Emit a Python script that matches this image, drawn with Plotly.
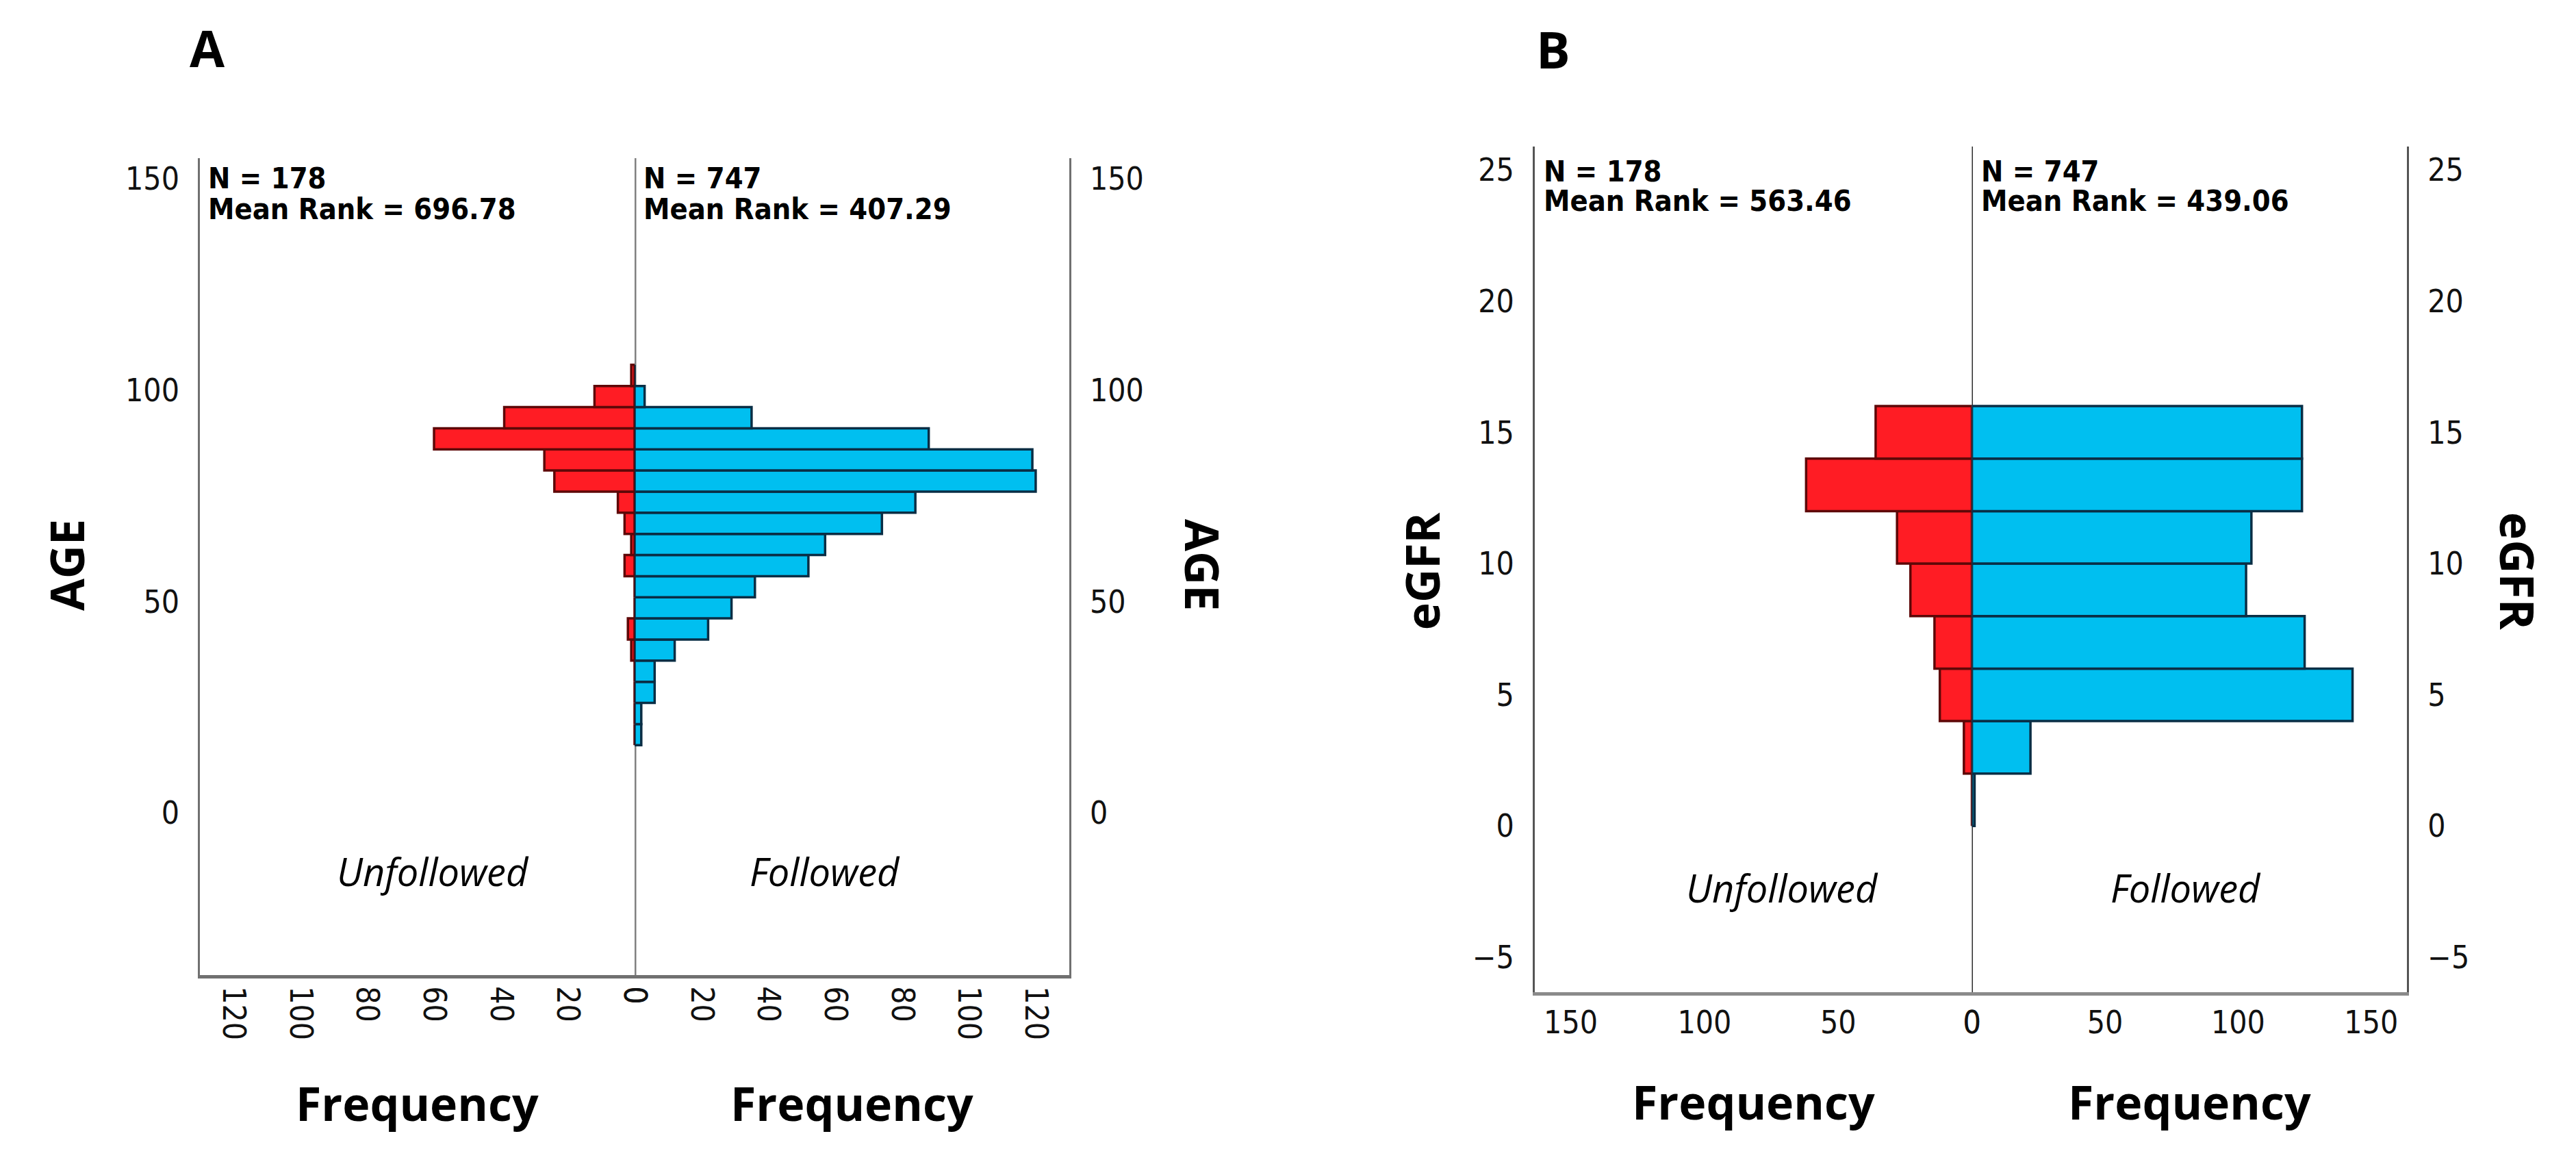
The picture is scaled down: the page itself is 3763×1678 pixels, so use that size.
import plotly.graph_objects as go

# ---------------- data ----------------
age_bin_start = [16, 21, 26, 31, 36, 41, 46, 51, 56, 61, 66, 71, 76, 81, 86, 91, 96, 101]
age_bin_width = 5
age_unfollowed = [0, 0, 0, 0, 1, 2, 0, 0, 3, 1, 3, 5, 24, 27, 60, 39, 12, 1]
age_followed = [2, 2, 6, 6, 12, 22, 29, 36, 52, 57, 74, 84, 120, 119, 88, 35, 3, 0]

egfr_bin_start = [0, 2, 4, 6, 8, 10, 12, 14]
egfr_bin_width = 2
egfr_unfollowed = [0, 3, 12, 14, 23, 28, 62, 36]
egfr_followed = [1, 22, 143, 125, 103, 105, 124, 124]

age_y_ticks = [0, 50, 100, 150]
age_x_ticks = [0, 20, 40, 60, 80, 100, 120]
egfr_y_ticks = [-5, 0, 5, 10, 15, 20, 25]
egfr_x_ticks = [0, 50, 100, 150]

stats_age = [("N = 178", "Mean Rank = 696.78"), ("N = 747", "Mean Rank = 407.29")]
stats_egfr = [("N = 178", "Mean Rank = 563.46"), ("N = 747", "Mean Rank = 439.06")]
group_labels = ["Unfollowed", "Followed"]

# ---------------- style ----------------
W, H = 3763, 1678
RED, RED_EDGE = "#FF1C24", "#5E0808"
BLUE, BLUE_EDGE = "#00BFF0", "#0A2E45"
TICK_FONT = dict(family="DejaVu Sans Condensed, Liberation Sans, sans-serif", size=46, color="#111111")
STAT_FONT = dict(family="DejaVu Sans Condensed, Liberation Sans, sans-serif", size=43, color="#000000", weight="bold")
TITLE_FONT = dict(family="Open Sans, Liberation Sans, sans-serif", size=68, color="#000000", weight="bold")
GROUP_FONT = dict(family="Open Sans, Liberation Sans, sans-serif", size=56, color="#000000", style="italic")
PANEL_FONT = dict(family="Open Sans, Liberation Sans, sans-serif", size=74, color="#000000", weight="bold")


def fx(x):
    return x / W


def fy(y):
    return 1 - y / H


A_L, A_C, A_R, A_T, A_B = 262, 906, 1550, 223, 1416
B_L, B_C, B_R, B_T, B_B = 2240, 2888, 3533, 206, 1441

age_centers = [s + age_bin_width / 2 for s in age_bin_start]
egfr_centers = [s + egfr_bin_width / 2 for s in egfr_bin_start]

fig = go.Figure()


def bars(xv, yv, w, color, edge, xa, ya):
    fig.add_trace(go.Bar(
        x=xv, y=yv, orientation="h", width=[w] * len(yv),
        marker=dict(color=color, line=dict(color=edge, width=3.5)),
        xaxis=xa, yaxis=ya, showlegend=False, hoverinfo="skip"))


bars(age_unfollowed, age_centers, age_bin_width, RED, RED_EDGE, "x", "y")
bars(age_followed, age_centers, age_bin_width, BLUE, BLUE_EDGE, "x2", "y2")
bars(egfr_unfollowed, egfr_centers, egfr_bin_width, RED, RED_EDGE, "x3", "y3")
bars(egfr_followed, egfr_centers, egfr_bin_width, BLUE, BLUE_EDGE, "x4", "y4")

common_x = dict(showgrid=False, zeroline=False, ticks="", tickfont=TICK_FONT, fixedrange=True)
common_y = dict(showgrid=False, zeroline=False, ticks="", tickfont=TICK_FONT, fixedrange=True)

A_YR = [-38.4, 154.9]
B_YR = [-6.33, 25.89]
A_XMAX = 130
B_XMAX = 163.5

fig.update_layout(
    width=W, height=H, autosize=False,
    margin=dict(l=0, r=0, t=0, b=0),
    paper_bgcolor="white", plot_bgcolor="rgba(0,0,0,0)",
    barmode="overlay",
    xaxis=dict(domain=[fx(A_L), fx(A_C)], range=[A_XMAX, 0], anchor="y",
               tickvals=age_x_ticks, tickangle=90, showline=True, linecolor="#707070",
               linewidth=5, ticklabelstandoff=2, **common_x),
    xaxis2=dict(domain=[fx(A_C), fx(A_R)], range=[0, A_XMAX], anchor="y2",
                tickvals=age_x_ticks, tickangle=90, showline=True, linecolor="#707070",
                linewidth=5, ticklabelstandoff=2, **common_x),
    yaxis=dict(domain=[fy(A_B), fy(A_T)], range=A_YR, anchor="x", side="left",
               tickvals=age_y_ticks, showline=True, linecolor="#707070", linewidth=3,
               ticklabelstandoff=18, **common_y),
    yaxis2=dict(domain=[fy(A_B), fy(A_T)], range=A_YR, anchor="x2", side="right",
                tickvals=age_y_ticks, showline=True, linecolor="#707070", linewidth=3,
                ticklabelstandoff=18, **common_y),
    xaxis3=dict(domain=[fx(B_L), fx(B_C)], range=[B_XMAX, 0], anchor="y3",
                tickvals=egfr_x_ticks, showline=True, linecolor="#8a8a8a",
                linewidth=5, ticklabelstandoff=0, **common_x),
    xaxis4=dict(domain=[fx(B_C), fx(B_R)], range=[0, B_XMAX], anchor="y4",
                tickvals=egfr_x_ticks, showline=True, linecolor="#8a8a8a",
                linewidth=5, ticklabelstandoff=0, **common_x),
    yaxis3=dict(domain=[fy(B_B), fy(B_T)], range=B_YR, anchor="x3", side="left",
                tickvals=egfr_y_ticks, showline=True, linecolor="#555555", linewidth=2.5,
                ticklabelstandoff=18, **common_y),
    yaxis4=dict(domain=[fy(B_B), fy(B_T)], range=B_YR, anchor="x4", side="right",
                tickvals=egfr_y_ticks, showline=True, linecolor="#555555", linewidth=2.5,
                ticklabelstandoff=18, **common_y),
)

# centre dividers (placed through the axis scales)
fig.add_shape(type="line", xref="x2", yref="y2 domain", x0=0, x1=0, y0=0, y1=1,
              line=dict(color="#808080", width=5), layer="below")
fig.add_shape(type="line", xref="x4", yref="y4 domain", x0=0, x1=0, y0=0, y1=1,
              line=dict(color="#000000", width=2.5), layer="below")

ann = []


def text(t, x, y, font, xanchor="center", yanchor="middle", angle=0):
    ann.append(dict(text=t, x=fx(x), y=fy(y), xref="paper", yref="paper",
                    xanchor=xanchor, yanchor=yanchor, showarrow=False,
                    font=font, textangle=angle))


# panel letters
text("A", 273, 62, PANEL_FONT)
text("B", 2268, 63, PANEL_FONT)

# stats
for (n, mr), x0 in zip(stats_age, [272, 917]):
    text(n, x0, 252, STAT_FONT, xanchor="left")
    text(mr, x0, 297, STAT_FONT, xanchor="left")
for (n, mr), x0 in zip(stats_egfr, [2251, 2900]):
    text(n, x0, 242, STAT_FONT, xanchor="left")
    text(mr, x0, 285, STAT_FONT, xanchor="left")

# group labels
text(group_labels[0], 607, 1264, GROUP_FONT)
text(group_labels[1], 1188, 1264, GROUP_FONT)
text(group_labels[0], 2607, 1288, GROUP_FONT)
text(group_labels[1], 3205, 1288, GROUP_FONT)

# axis titles
for cx in [(A_L + A_C) / 2, (A_C + A_R) / 2]:
    text("Frequency", cx, 1602, TITLE_FONT)
for cx in [(B_L + B_C) / 2, (B_C + B_R) / 2]:
    text("Frequency", cx, 1600, TITLE_FONT)
text("AGE", 63, 817, TITLE_FONT, angle=-90)
text("AGE", 1749, 817, TITLE_FONT, angle=90)
text("eGFR", 2073, 826, TITLE_FONT, angle=-90)
text("eGFR", 3697, 826, TITLE_FONT, angle=90)

fig.update_layout(annotations=ann)

fig.write_html("out.html")
